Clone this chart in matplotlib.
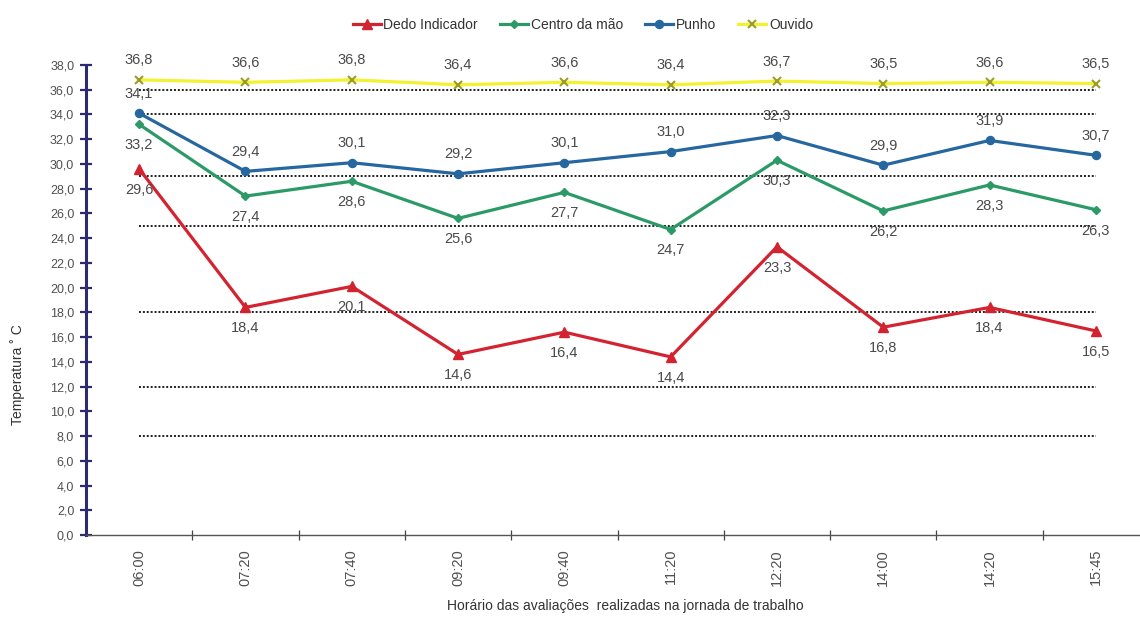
import matplotlib
matplotlib.use("Agg")
import matplotlib.pyplot as plt
from matplotlib.ticker import FuncFormatter, FixedLocator

plt.rcParams['font.family'] = ['Liberation Sans', 'DejaVu Sans']

# Evaluation times along the working day
horarios = ["06:00", "07:20", "07:40", "09:20", "09:40",
            "11:20", "12:20", "14:00", "14:20", "15:45"]

# Temperatures (°C) per measurement site
dedo_indicador = [29.6, 18.4, 20.1, 14.6, 16.4, 14.4, 23.3, 16.8, 18.4, 16.5]
centro_da_mao = [33.2, 27.4, 28.6, 25.6, 27.7, 24.7, 30.3, 26.2, 28.3, 26.3]
punho = [34.1, 29.4, 30.1, 29.2, 30.1, 31.0, 32.3, 29.9, 31.9, 30.7]
ouvido = [36.8, 36.6, 36.8, 36.4, 36.6, 36.4, 36.7, 36.5, 36.6, 36.5]

# Dotted reference levels (°C)
niveis_ref = [36, 34, 29, 25, 18, 12, 8]

fig = plt.figure(figsize=(11.4, 6.24), dpi=100)
ax = fig.add_axes([86 / 1140, 89 / 624, 1063 / 1140, 470 / 624])

x = list(range(len(horarios)))

ax.hlines(niveis_ref, 0, len(horarios) - 1, colors="#1E1E1E",
          linestyles=(0, (1, 1.0)), linewidth=1.4, zorder=1)

series = [
    ("Dedo Indicador", dedo_indicador, "#D42330", "^", 6.5, "below"),
    ("Centro da mão", centro_da_mao, "#2B9A67", "D", 4.2, "below"),
    ("Punho", punho, "#27679F", "o", 5.8, "above"),
    ("Ouvido", ouvido, "#F2F230", "x", 5.5, "above"),
]

label_color = "#4A4A4A"
for name, vals, color, marker, ms, pos in series:
    mec = "#9C9C2A" if marker == "x" else color
    ax.plot(x, vals, color=color, linewidth=2.3, marker=marker,
            markersize=ms, markerfacecolor=color, markeredgecolor=mec,
            markeredgewidth=1.5 if marker == "x" else 1.0,
            label=name, zorder=3)
    dy = 14 if pos == "above" else -15
    for xi, v in zip(x, vals):
        ax.annotate(f"{v:.1f}".replace(".", ","), (xi, v),
                    xytext=(0, dy), textcoords="offset points",
                    ha="center", va="center", fontsize=10.5,
                    color=label_color, zorder=4)

ax.set_xlim(-0.5, len(horarios) - 0.5)
ax.set_ylim(0, 38)

# Y axis
ax.set_yticks([i * 2 for i in range(20)])
ax.yaxis.set_major_formatter(FuncFormatter(lambda v, p: f"{v:.1f}".replace(".", ",")))
ax.tick_params(axis="y", direction="inout", length=9, width=1.6,
               color="#2E2A6E", labelsize=9, labelcolor="#505050", pad=4)

# X axis: category labels centred, tick marks between categories
ax.set_xticks(x)
ax.set_xticklabels(horarios, rotation=90, fontsize=10.5, color="#505050")
ax.tick_params(axis="x", which="major", length=0, pad=10)
ax.xaxis.set_minor_locator(FixedLocator([i + 0.5 for i in range(len(horarios))]))
ax.tick_params(axis="x", which="minor", direction="inout", length=7,
               width=0.9, color="#444444")

for side in ("top", "right"):
    ax.spines[side].set_visible(False)
ax.spines["left"].set_color("#2E2A6E")
ax.spines["left"].set_linewidth(2.2)
ax.spines["bottom"].set_color("#555555")
ax.spines["bottom"].set_linewidth(1.0)

fig.text(18 / 1140, 1 - 375 / 624, "Temperatura ˚ C", rotation=90,
         ha="center", va="center", fontsize=10, color="#333333")
fig.text(625 / 1140, 1 - 606 / 624,
         "Horário das avaliações  realizadas na jornada de trabalho",
         ha="center", va="center", fontsize=10, color="#333333")

fig.legend(loc="center", bbox_to_anchor=(583 / 1140, 1 - 25 / 624),
           ncol=4, frameon=False, fontsize=10, handlelength=2.0,
           handletextpad=0.2, columnspacing=1.6, labelcolor="#333333")

fig.savefig("out.png", dpi=100, facecolor="white")
